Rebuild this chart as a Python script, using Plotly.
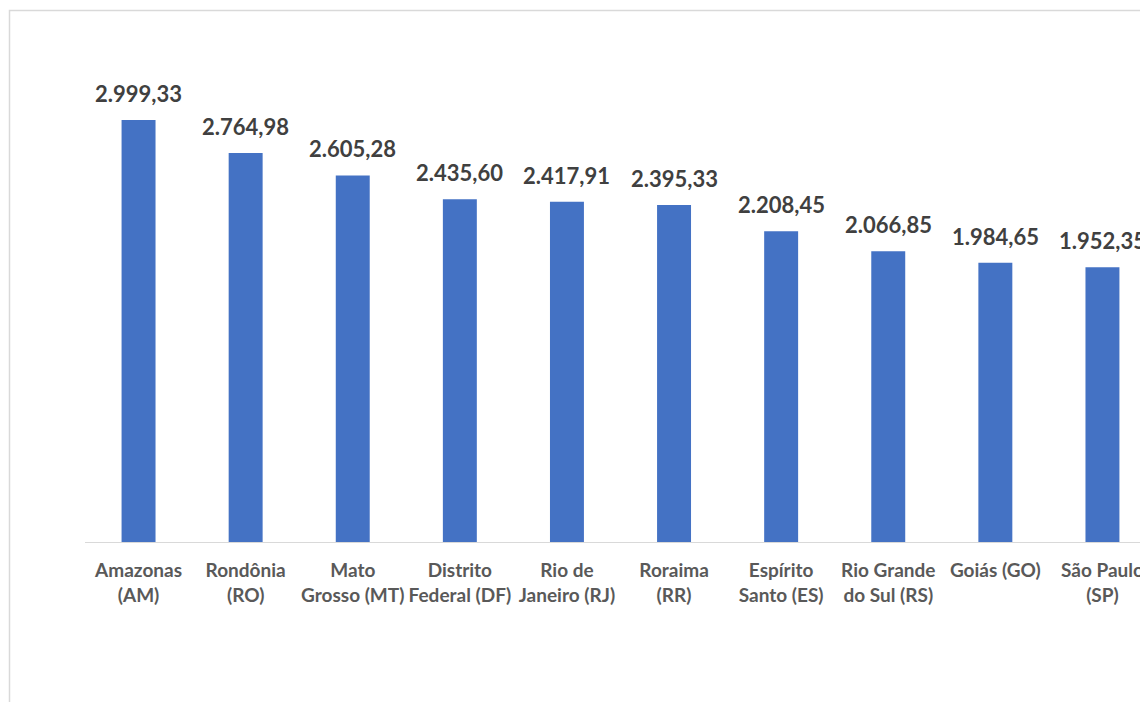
import plotly.graph_objects as go

categories = ["Amazonas<br>(AM)", "Rondônia<br>(RO)", "Mato<br>Grosso (MT)", "Distrito<br>Federal (DF)",
              "Rio de<br>Janeiro (RJ)", "Roraima<br>(RR)", "Espírito<br>Santo (ES)",
              "Rio Grande<br>do Sul (RS)", "Goiás (GO)", "São Paulo<br>(SP)"]
values = [2999.33, 2764.98, 2605.28, 2435.60, 2417.91, 2395.33, 2208.45, 2066.85, 1984.65, 1952.35]
value_labels = ["2.999,33", "2.764,98", "2.605,28", "2.435,60", "2.417,91", "2.395,33",
                "2.208,45", "2.066,85", "1.984,65", "1.952,35"]

# page has an 8px body margin, so the figure is offset by 8px
W, H = 1148, 694
L, T, B = 77, 42, 160
plot_w = W - L
plot_h = H - T - B
cat_w = 107.1
px_per_unit = 422 / 2999.33

fig = go.Figure()
fig.add_trace(go.Bar(
    x=list(range(len(categories))), y=values,
    marker=dict(color="#4472C4", line=dict(width=0)),
    hoverinfo="skip",
))

annotations = []
for i, (v, t) in enumerate(zip(values, value_labels)):
    annotations.append(dict(
        x=i, y=v, xref="x", yref="y", text=t, showarrow=False,
        yanchor="bottom", yshift=11,
        font=dict(family="Lato", size=22, color="#404040", weight="bold"),
    ))

fig.update_layout(
    width=W, height=H,
    margin=dict(l=L, r=0, t=T, b=B, autoexpand=False),
    paper_bgcolor="white", plot_bgcolor="white",
    bargap=0.683,
    showlegend=False,
    annotations=annotations,
    shapes=[dict(type="rect", xref="paper", yref="paper",
                 x0=(1.5 - L) / plot_w, x1=1.2,
                 y0=-0.6, y1=(H - B - 2.5) / plot_h,
                 line=dict(color="#D9D9D9", width=1.5), fillcolor="rgba(0,0,0,0)", layer="below")],
    xaxis=dict(
        range=[-0.5, -0.5 + plot_w / cat_w],
        tickmode="array", tickvals=list(range(len(categories))), ticktext=categories,
        tickangle=0,
        showline=True, linecolor="#D9D9D9", linewidth=1,
        showgrid=False, zeroline=False, ticks="",
        ticklabelstandoff=11,
        tickfont=dict(family="Lato", size=19, color="#595959", weight="bold"),
        automargin=False,
    ),
    yaxis=dict(
        range=[0, plot_h / px_per_unit],
        visible=False, showgrid=False, zeroline=False,
    ),
)

fig.write_html("out.html")
